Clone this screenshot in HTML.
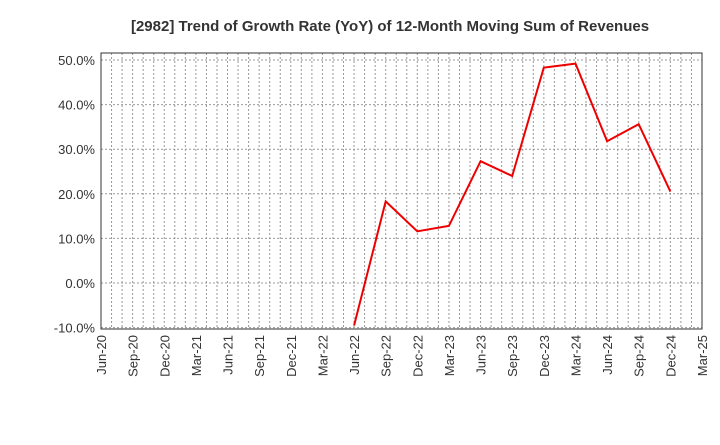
<!DOCTYPE html>
<html><head><meta charset="utf-8"><style>
body{margin:0;background:#fff;font-family:"Liberation Sans",sans-serif}
</style></head><body>
<svg width="720" height="440" xmlns="http://www.w3.org/2000/svg">
<text x="390" y="31" text-anchor="middle" font-size="15" font-weight="bold" fill="#333">[2982]  Trend of Growth Rate (YoY) of 12-Month Moving Sum of Revenues</text>
<g id="grid"></g>
<g id="axes"></g>
<path id="line" fill="none" stroke="#e00" stroke-width="2"/>
<rect x="101" y="53" width="601" height="276" fill="none" stroke="#333" stroke-width="1"/>
</svg>
<script>
const xLabels=["Jun-20","Sep-20","Dec-20","Mar-21","Jun-21","Sep-21","Dec-21","Mar-22","Jun-22","Sep-22","Dec-22","Mar-23","Jun-23","Sep-23","Dec-23","Mar-24","Jun-24","Sep-24","Dec-24","Mar-25"];
const yTicks=[-10,0,10,20,30,40,50];
const pointQuarters=[8,9,10,11,12,13,14,15,16,17,18];
const values=[-9.5,18.3,11.6,12.8,27.3,24.0,48.3,49.2,31.8,35.6,20.5];
const L=101,R=702,T=53,B=329;
const x=q=>L+(R-L)*q/19;
const y=v=>283-(v)*4.46;
const ns="http://www.w3.org/2000/svg";
const grid=document.getElementById('grid'),axes=document.getElementById('axes');
function mk(tag,attrs,p){const e=document.createElementNS(ns,tag);for(const k in attrs)e.setAttribute(k,attrs[k]);p.appendChild(e);return e;}
for(let m=1;m<57;m++){const xx=L+(R-L)*m/57;
const g=mk('line',{x1:xx,x2:xx,y1:T,y2:B,stroke:'#999','stroke-dasharray':'2,2','stroke-width':1},grid);
}
yTicks.forEach(v=>{const yy=y(v);
const g=mk('line',{x1:L,x2:R,y1:yy,y2:yy,stroke:'#999','stroke-dasharray':'2,2'},grid);

const t=mk('text',{x:L-6,y:yy+5,'text-anchor':'end','font-size':13,fill:'#333'},axes);t.textContent=v.toFixed(1)+'%';
});
xLabels.forEach((s,i)=>{const xx=x(i);
const t=mk('text',{transform:`translate(${xx+5},${B+6}) rotate(-90)`,'text-anchor':'end','font-size':13,fill:'#333'},axes);t.textContent=s;
});
document.getElementById('line').setAttribute('d',values.map((v,i)=>(i?'L':'M')+x(pointQuarters[i]).toFixed(1)+','+y(v).toFixed(1)).join(''));
</script>
</body></html>
